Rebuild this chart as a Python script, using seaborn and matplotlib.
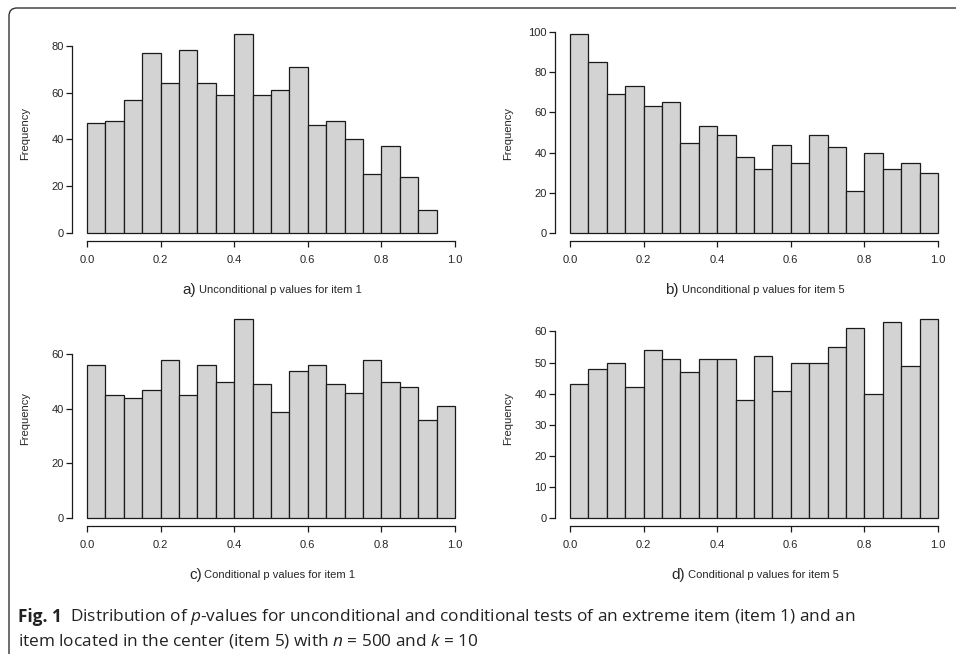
import numpy as np
import pandas as pd
import matplotlib
matplotlib.use("Agg")
import matplotlib.pyplot as plt
import seaborn as sns
from matplotlib.patches import FancyBboxPatch

# bin counts (bins of width 0.05 starting at 0)
counts_a = [47, 48, 57, 77, 64, 78, 64, 59, 85, 59, 61, 71, 46, 48, 40, 25, 37, 24, 10]
counts_b = [99, 85, 69, 73, 63, 65, 45, 53, 49, 38, 32, 44, 35, 49, 43, 21, 40, 32, 35, 30]
counts_c = [56, 45, 44, 47, 58, 45, 56, 50, 73, 49, 39, 54, 56, 49, 46, 58, 50, 48, 36, 41]
counts_d = [43, 48, 50, 42, 54, 51, 47, 51, 51, 38, 52, 41, 50, 50, 55, 61, 40, 63, 49, 64]

letters = ["a)", "b)", "c)", "d)"]
titles = ["Unconditional p values for item 1", "Unconditional p values for item 5",
          "Conditional p values for item 1", "Conditional p values for item 5"]
yticks = [[0, 20, 40, 60, 80], [0, 20, 40, 60, 80, 100], [0, 20, 40, 60], [0, 10, 20, 30, 40, 50, 60]]
xticks = [0.0, 0.2, 0.4, 0.6, 0.8, 1.0]

sns.set_style("white")
plt.rcParams['font.family'] = ['Liberation Sans', 'DejaVu Sans']

W, H = 956, 654
fig = plt.figure(figsize=(W / 100, H / 100), dpi=100)

# axes boxes in pixels: left, top, width, height
boxes = [(72.3, 26, 397.4, 215), (555.3, 26, 397.4, 215),
         (72.3, 311, 397.4, 215), (555.3, 311, 397.4, 215)]

all_counts = [counts_a, counts_b, counts_c, counts_d]
for i, counts in enumerate(all_counts):
    l, t, w, h = boxes[i]
    ax = fig.add_axes([l / W, 1 - (t + h) / H, w / W, h / H])
    n = len(counts)
    mids = np.round(np.arange(n) * 0.05 + 0.025, 3)
    df = pd.DataFrame({"mid": mids, "count": counts})
    sns.histplot(data=df, x="mid", weights="count", binwidth=0.05,
                 binrange=(0, round(n * 0.05, 2)), ax=ax,
                 color="#d3d3d3", edgecolor="#1a1a1a", linewidth=0.9, alpha=1)
    ymax = max(counts)
    ax.set_xlim(-0.04, 1.04)
    ax.set_ylim(-0.04 * ymax, 1.04 * ymax)
    ax.set_xticks(xticks)
    ax.set_xticklabels(["%.1f" % v for v in xticks])
    ax.set_yticks(yticks[i])
    sns.despine(ax=ax)
    ax.spines["left"].set_bounds(0, yticks[i][-1])
    ax.spines["bottom"].set_bounds(0, 1)
    for s in ["left", "bottom"]:
        ax.spines[s].set_linewidth(0.9)
        ax.spines[s].set_color("#1a1a1a")
    ax.tick_params(axis="both", direction="out", length=4.3, width=0.9,
                   labelsize=8, color="#1a1a1a", left=True, bottom=True)
    ax.tick_params(axis="y", pad=2)
    ax.tick_params(axis="x", pad=6)
    ax.set_xlabel("")
    ax.set_ylabel("")
    ax.text(-47 / w, 0.5, "Frequency", transform=ax.transAxes, rotation=90,
            ha="center", va="center", fontsize=8)
    main = ax.text(0.5 + 9 / w, -49 / h, titles[i], transform=ax.transAxes,
                   ha="center", va="center", fontsize=8)
    ax.annotate(letters[i], xy=(0, 0.5), xycoords=main, xytext=(-2, 0),
                textcoords="offset points", ha="right", va="center", fontsize=11)

# rounded frame of the figure panel
frame = FancyBboxPatch((0.09, -1.0), 12, (H - 8) / 100 + 1.0,
                       boxstyle="round,pad=0,rounding_size=0.08",
                       transform=fig.dpi_scale_trans, fill=False,
                       edgecolor="#333333", linewidth=1.0)
fig.patches.append(frame)

# caption
plt.rcParams['mathtext.fontset'] = 'custom'
plt.rcParams['mathtext.rm'] = 'Open Sans'
plt.rcParams['mathtext.it'] = 'Open Sans:italic'
cap_font = ['Open Sans', 'DejaVu Sans']
cap_size = 12.4
fig_lab = fig.text(18 / W, 1 - 617 / H, "Fig. 1", fontsize=cap_size, fontweight="bold",
                   family=cap_font, ha="left", va="center", color="#222222")
plt.annotate("Distribution of $p$-values for unconditional and conditional tests of an "
             "extreme item (item 1) and an",
             xy=(1, 0.5), xycoords=fig_lab, xytext=(6, 0), textcoords="offset points",
             ha="left", va="center", fontsize=cap_size, family=cap_font, color="#222222")
fig.text(18 / W, 1 - 641 / H,
         "item located in the center (item 5) with $n$ = 500 and $k$ = 10",
         fontsize=cap_size, family=cap_font, ha="left", va="center", color="#222222")

fig.savefig("out.png", dpi=100)
